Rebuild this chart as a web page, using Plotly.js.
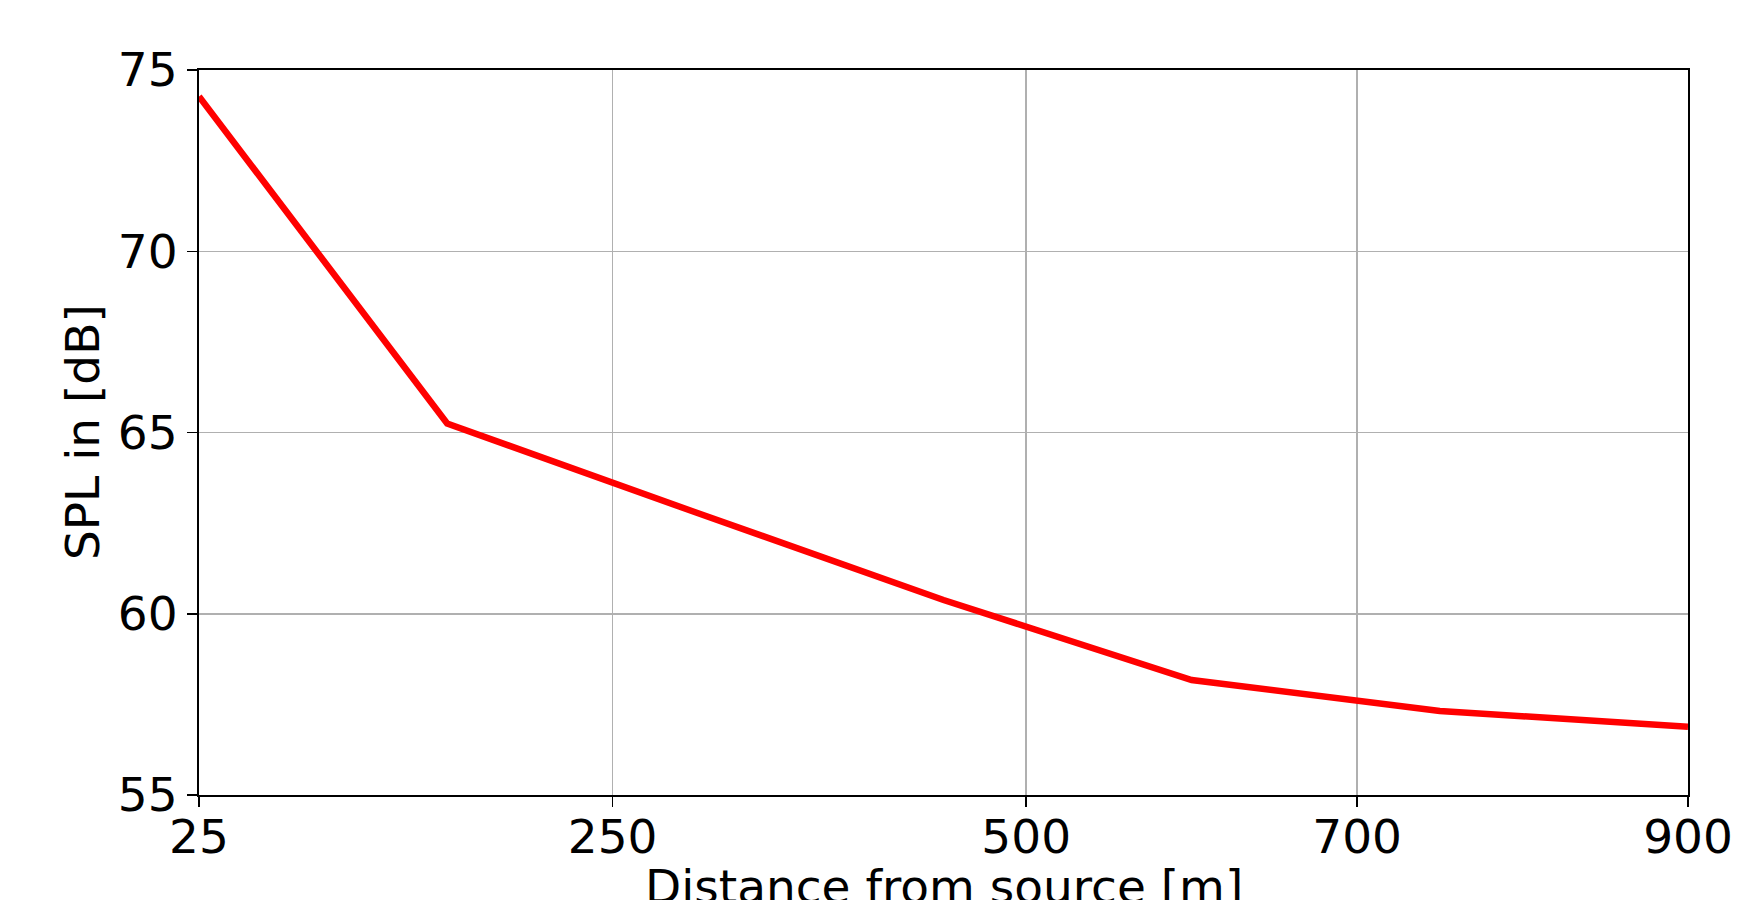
<!DOCTYPE html>
<html>
<head>
<meta charset="utf-8">
<script src="https://cdn.plot.ly/plotly-3.0.1.min.js"></script>
<style>html,body{margin:0;padding:0;background:#fff;}#chart{width:1761px;height:900px;}</style>
</head>
<body>
<div id="chart"></div>
<script>
// Data
const distances = [0, 150, 300, 450, 600, 750, 900];
const splValues = [74.27, 65.25, 62.8, 60.38, 58.17, 57.32, 56.88];
const xTickVals = [0, 250, 500, 700, 900];
const xTickText = ['25', '250', '500', '700', '900'];
const yTickVals = [55, 60, 65, 70, 75];
const xTitle = 'Distance from source [m]';
const yTitle = 'SPL in [dB]';

const font = {family: 'DejaVu Sans, sans-serif', size: 47, color: '#000'};

Plotly.newPlot('chart', [{
  x: distances,
  y: splValues,
  type: 'scatter',
  mode: 'lines',
  line: {color: '#ff0000', width: 6.5},
  showlegend: false,
  hoverinfo: 'skip'
}], {
  width: 1761,
  height: 900,
  margin: {l: 199, r: 73, t: 70, b: 105, pad: 0},
  paper_bgcolor: '#fff',
  plot_bgcolor: '#fff',
  font: font,
  xaxis: {
    range: [0, 900],
    tickvals: xTickVals,
    ticktext: xTickText,
    ticks: 'outside',
    ticklen: 10,
    tickwidth: 1.5,
    tickcolor: '#000',
    ticklabelstandoff: -10,
    showgrid: true,
    gridcolor: '#b0b0b0',
    gridwidth: 1.5,
    showline: true,
    linecolor: '#000',
    linewidth: 2,
    mirror: true,
    zeroline: false,
    tickfont: font,
    automargin: false
  },
  yaxis: {
    range: [55, 75],
    tickvals: yTickVals,
    ticks: 'outside',
    ticklen: 10,
    tickwidth: 1.5,
    tickcolor: '#000',
    showgrid: true,
    gridcolor: '#b0b0b0',
    gridwidth: 1.5,
    showline: true,
    linecolor: '#000',
    linewidth: 2,
    mirror: true,
    zeroline: false,
    tickfont: font,
    automargin: false
  },
  annotations: [
    {text: xTitle, xref: 'paper', yref: 'paper', x: 0.5, y: -0.085,
     xanchor: 'center', yanchor: 'top', showarrow: false, font: font},
    {text: yTitle, xref: 'paper', yref: 'paper', x: -0.0782, y: 0.5,
     xanchor: 'center', yanchor: 'middle', textangle: -90, showarrow: false, font: font}
  ]
}, {displayModeBar: false, staticPlot: true});
</script>
</body>
</html>
